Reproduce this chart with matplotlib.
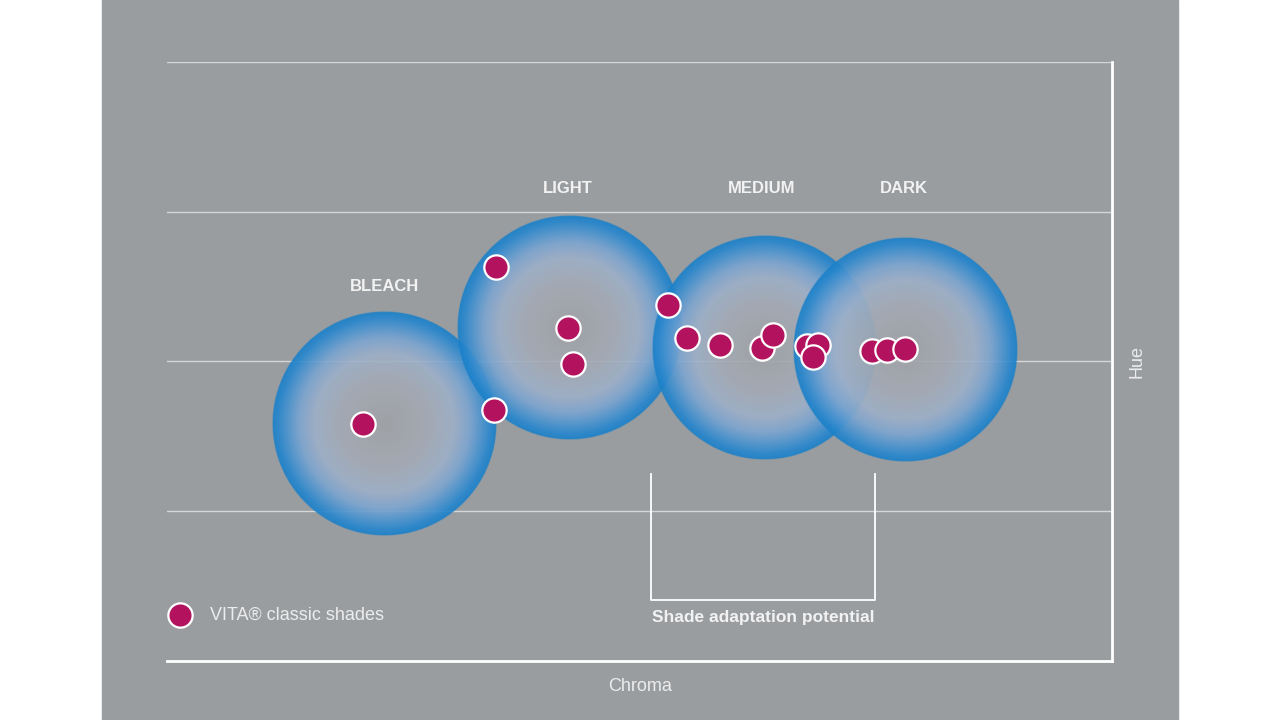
import numpy as np
import matplotlib
matplotlib.use('Agg')
from matplotlib import pyplot as plt
from matplotlib.patches import Rectangle

# shade groups (centre and radius in chroma/hue units)
group_names = ['BLEACH', 'LIGHT', 'MEDIUM', 'DARK']
group_x = [14.47, 26.8, 39.8, 49.2]
group_y = [15.8, 22.27, 20.9, 20.8]
group_r = [7.47, 7.47, 7.47, 7.47]
label_x = [14.47, 26.73, 39.67, 49.13]
label_y = [25.0, 31.55, 31.55, 31.55]

# VITA classic shades
shade_x = [21.91, 26.75, 27.09, 21.82, 13.05, 33.4, 34.65, 36.87, 39.67,
           40.38, 42.65, 43.42, 43.09, 46.98, 47.98, 49.2]
shade_y = [26.29, 22.27, 19.82, 16.78, 15.85, 23.77, 21.59, 21.11, 20.89,
           21.78, 21.02, 21.11, 20.33, 20.67, 20.78, 20.85]

grid_y = [10, 20, 30, 40]
x_max, y_max = 63, 40
bracket_x = [32.27, 47.2]
bracket_y = [12.47, 4.07]

panel = '#9a9da0'
dot_col = '#b3135e'
txt_col = '#f2f2f2'
cond = ['Liberation Sans Narrow', 'Liberation Sans', 'DejaVu Sans']

fig = plt.figure(figsize=(12.8, 7.2), dpi=100, facecolor='white')
fig.patches.append(Rectangle((102 / 1280, 0), (1178 - 102) / 1280, 1,
                             transform=fig.transFigure, color=panel, zorder=-5))
ax = fig.add_axes([167 / 1280, 59 / 720, 945 / 1280, 599 / 720])
ax.set_zorder(2)
ax.set_facecolor('none')
ax.set_xlim(0, x_max)
ax.set_ylim(0, y_max)
for s in ax.spines.values():
    s.set_visible(False)
ax.set_xticks([])
ax.set_yticks([])

for gy in grid_y:
    ax.plot([0, x_max], [gy, gy], color='#d4d6d8', lw=1.0, zorder=1)
ax.plot([0, x_max], [0, 0], color='white', lw=2.0, zorder=1, clip_on=False)
ax.plot([x_max, x_max], [0, y_max], color='white', lw=2.0, zorder=1, clip_on=False)

# radial gradient circles
stops_t = np.array([0.0, 0.4, 0.62, 0.76, 0.87, 0.95, 1.0])
stops_c = np.array([[160, 162, 165],
                    [164, 171, 182],
                    [158, 176, 200],
                    [125, 165, 208],
                    [75, 148, 208],
                    [38, 134, 205],
                    [25, 128, 200]]) / 255.0
n = 400
for i, (cx, cy, r) in enumerate(zip(group_x, group_y, group_r)):
    g = np.linspace(-1, 1, n)
    xx, yy = np.meshgrid(g, g)
    d = np.sqrt(xx ** 2 + yy ** 2)
    img = np.zeros((n, n, 4))
    for c in range(3):
        img[..., c] = np.interp(d, stops_t, stops_c[:, c])
    edge = np.clip((1 - d) * n / 2 / 1.2, 0, 1)
    img[..., 3] = 0.92 * edge
    ax.imshow(img, extent=[cx - r, cx + r, cy - r * 15 / 14.975, cy + r * 15 / 14.975],
              origin='lower', interpolation='bilinear', zorder=2 + i, aspect='auto')
ax.set_xlim(0, x_max)
ax.set_ylim(0, y_max)

for name, lx, ly in zip(group_names, label_x, label_y):
    ax.text(lx, ly, name, ha='center', va='center', color=txt_col,
            fontsize=12, fontweight='bold', family=cond, zorder=10)

ax.scatter(shade_x, shade_y, s=17.5 ** 2, color=dot_col, edgecolor='white',
           linewidth=1.6, zorder=8)

# bracket
ax.plot([bracket_x[0], bracket_x[0], bracket_x[1], bracket_x[1]],
        [bracket_y[0], bracket_y[1], bracket_y[1], bracket_y[0]],
        color='white', lw=1.3, zorder=6)
ax.text(sum(bracket_x) / 2, 2.93, 'Shade adaptation potential', ha='center',
        va='center', color=txt_col, fontsize=12.5, fontweight='bold', family=cond)

# legend
ax.scatter([0.87], [3.07], s=17.5 ** 2, color=dot_col, edgecolor='white',
           linewidth=1.6, zorder=8, clip_on=False)
ax.text(2.87, 3.07, 'VITA® classic shades', ha='left', va='center',
        color='#ececec', fontsize=13, family=['Liberation Sans', 'DejaVu Sans'])

ax.text(31.53, -1.73, 'Chroma', ha='center', va='center', color='#ececec',
        fontsize=13, family=['Liberation Sans', 'DejaVu Sans'])
ax.text(64.67, 20, 'Hue', ha='center', va='center', rotation=90, color='#ececec',
        fontsize=13, family=['Liberation Sans', 'DejaVu Sans'])

fig.savefig('out.png', dpi=100, facecolor='white')
